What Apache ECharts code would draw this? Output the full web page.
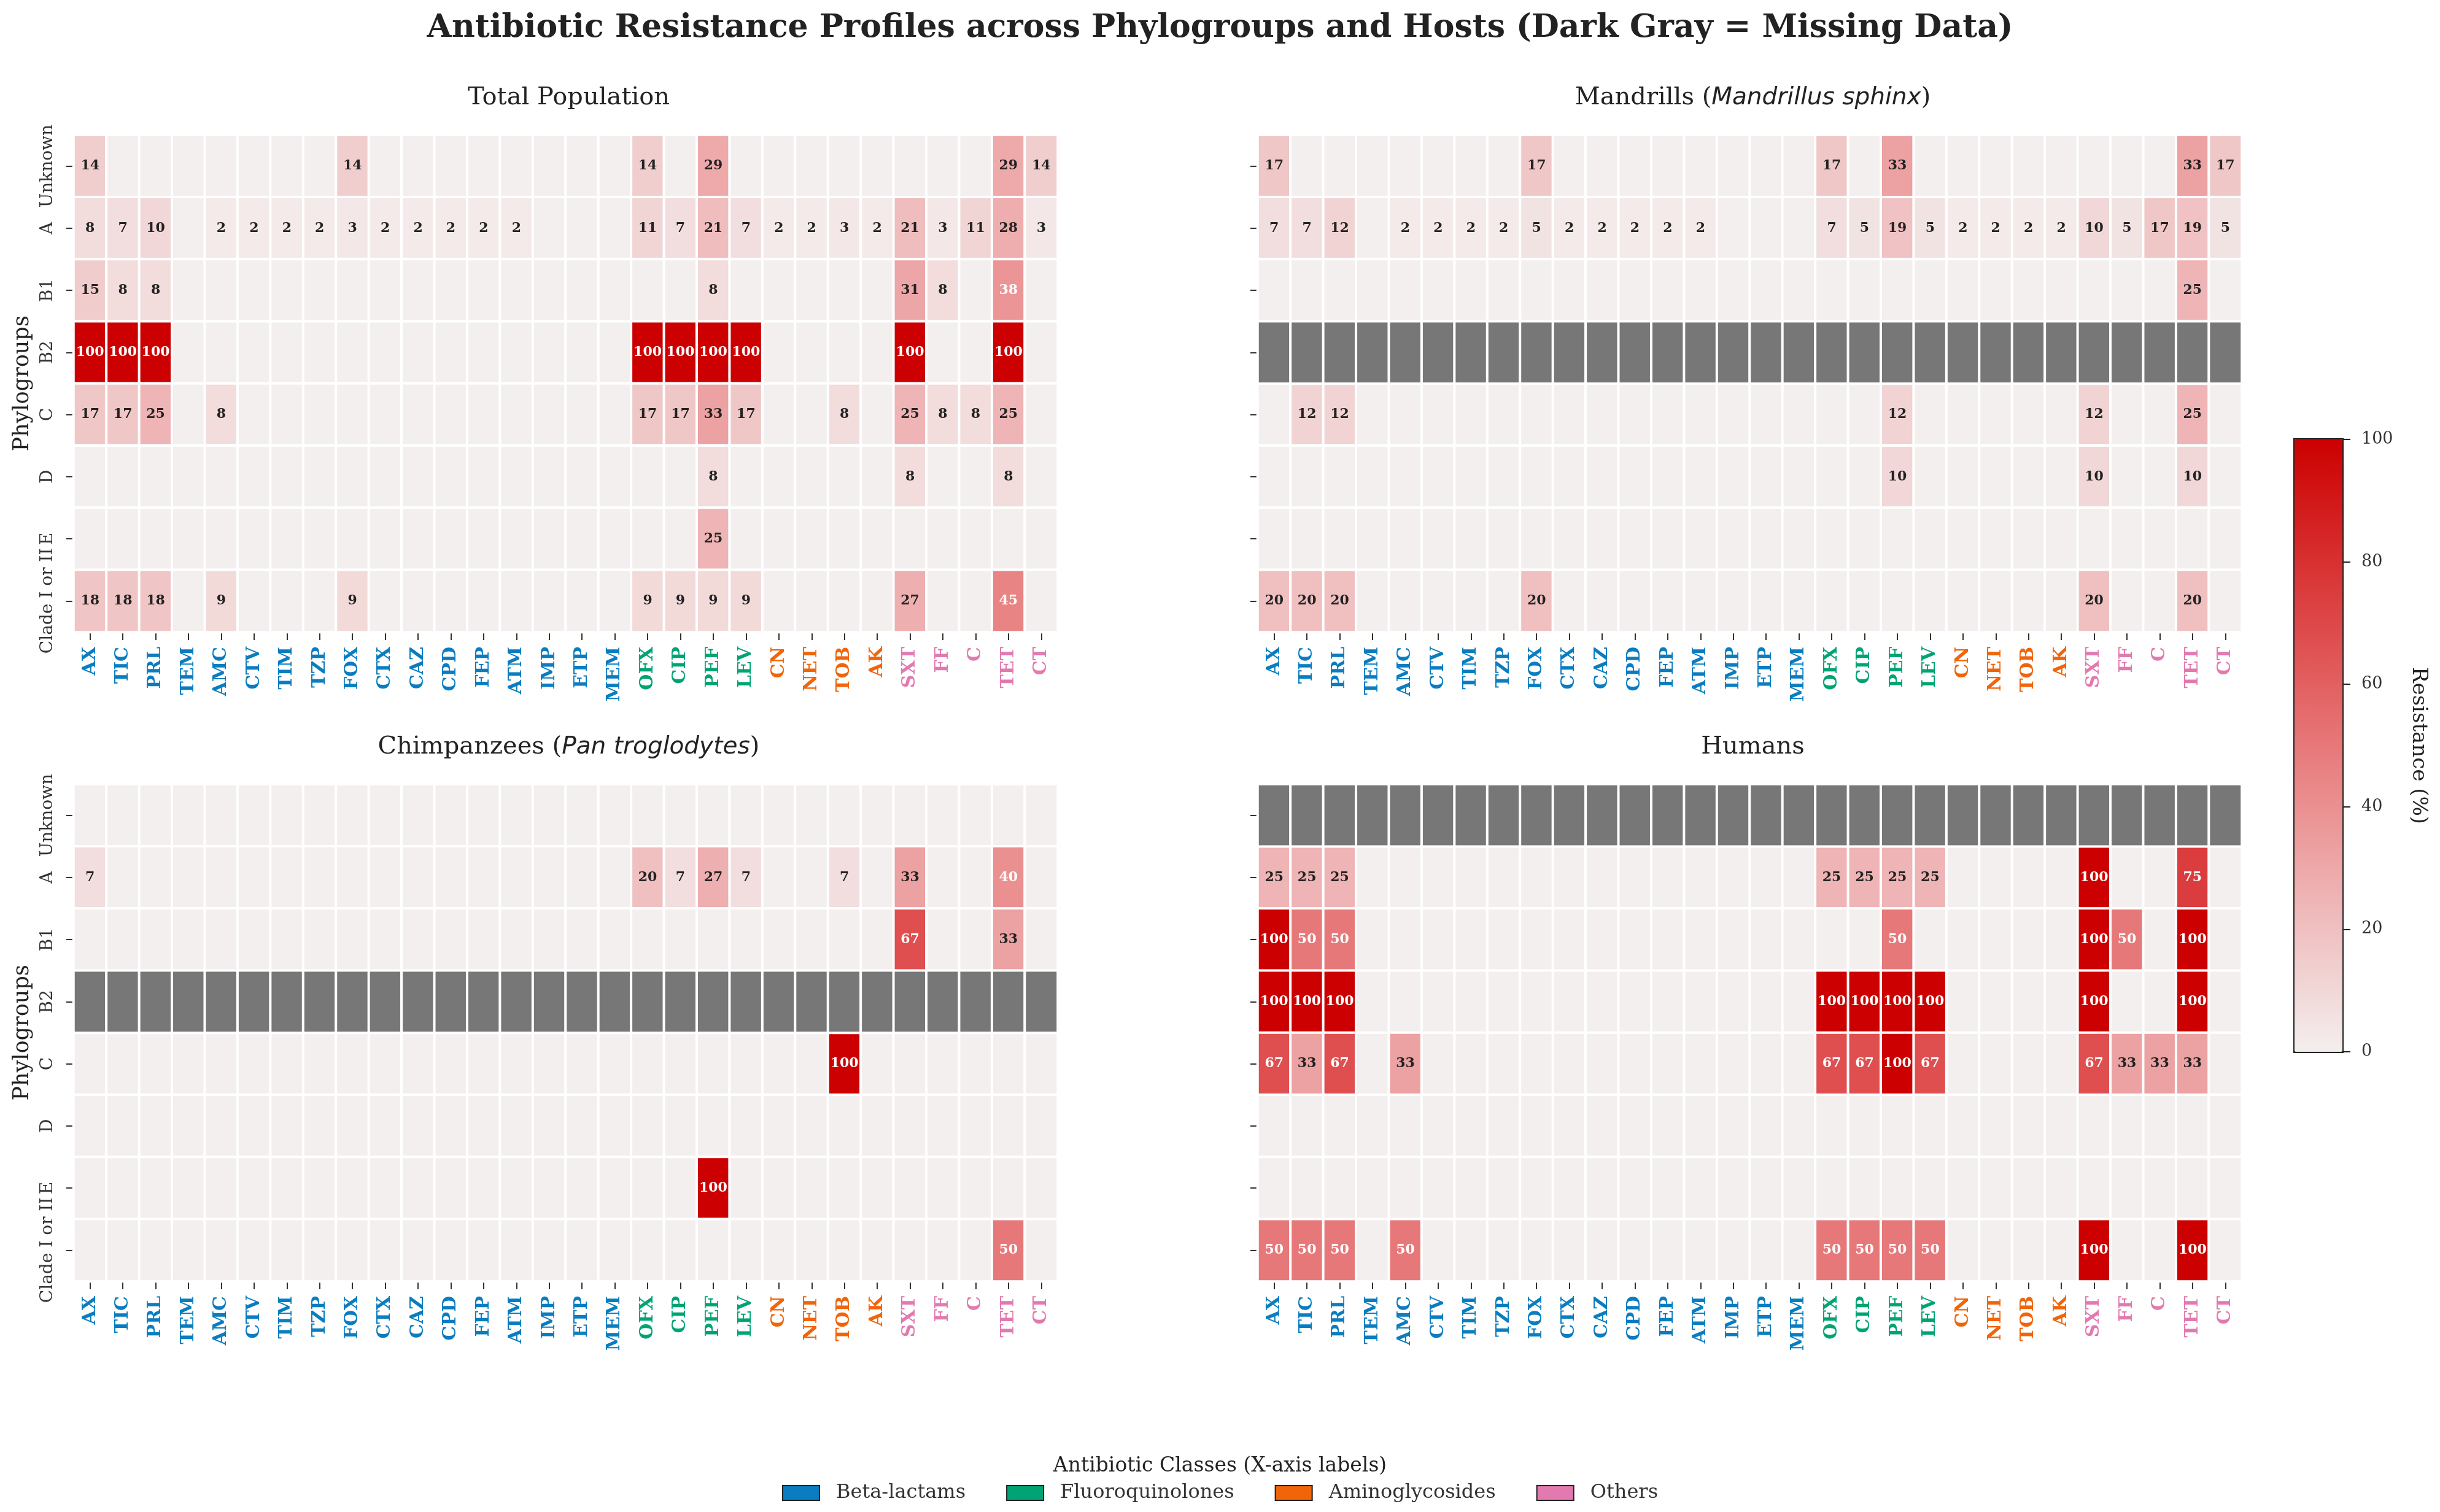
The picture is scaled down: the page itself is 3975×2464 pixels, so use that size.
<!DOCTYPE html>
<html>
<head>
<meta charset="utf-8">
<script src="https://cdn.jsdelivr.net/npm/echarts@6/dist/echarts.min.js"></script>
<style>
  html, body { margin: 0; padding: 0; background: #fff; }
  #main { width: 3975px; height: 2464px; }
</style>
</head>
<body>
<div id="main"></div>
<script>
// antibiotics on the x axis, with their class (0 beta-lactams, 1 FQ, 2 AG, 3 others)
var antibiotics = ['AX','TIC','PRL','TEM','AMC','CTV','TIM','TZP','FOX','CTX','CAZ','CPD','FEP','ATM','IMP','ETP','MEM',
                   'OFX','CIP','PEF','LEV','CN','NET','TOB','AK','SXT','FF','C','TET','CT'];
var abClass = [0,0,0,0,0,0,0,0,0,0,0,0,0,0,0,0,0, 1,1,1,1, 2,2,2,2, 3,3,3,3,3];
var classNames = ['Beta-lactams', 'Fluoroquinolones', 'Aminoglycosides', 'Others'];
var classColors = ['#0a7dc0', '#00a374', '#f0650a', '#e27ab0'];

var phylogroups = ['Unknown', 'A', 'B1', 'B2', 'C', 'D', 'E', 'Clade I or II'];

// resistance (%) per phylogroup row; null = missing data
var totalPop = [
  [14,0,0,0,0,0,0,0,14,0, 0,0,0,0,0,0,0,14,0,29, 0,0,0,0,0,0,0,0,29,14],
  [8,7,10,0,2,2,2,2,3,2, 2,2,2,2,0,0,0,11,7,21, 7,2,2,3,2,21,3,11,28,3],
  [15,8,8,0,0,0,0,0,0,0, 0,0,0,0,0,0,0,0,0,8, 0,0,0,0,0,31,8,0,38,0],
  [100,100,100,0,0,0,0,0,0,0, 0,0,0,0,0,0,0,100,100,100, 100,0,0,0,0,100,0,0,100,0],
  [17,17,25,0,8,0,0,0,0,0, 0,0,0,0,0,0,0,17,17,33, 17,0,0,8,0,25,8,8,25,0],
  [0,0,0,0,0,0,0,0,0,0, 0,0,0,0,0,0,0,0,0,8, 0,0,0,0,0,8,0,0,8,0],
  [0,0,0,0,0,0,0,0,0,0, 0,0,0,0,0,0,0,0,0,25, 0,0,0,0,0,0,0,0,0,0],
  [18,18,18,0,9,0,0,0,9,0, 0,0,0,0,0,0,0,9,9,9, 9,0,0,0,0,27,0,0,45,0]
];
var mandrills = [
  [17,0,0,0,0,0,0,0,17,0, 0,0,0,0,0,0,0,17,0,33, 0,0,0,0,0,0,0,0,33,17],
  [7,7,12,0,2,2,2,2,5,2, 2,2,2,2,0,0,0,7,5,19, 5,2,2,2,2,10,5,17,19,5],
  [0,0,0,0,0,0,0,0,0,0, 0,0,0,0,0,0,0,0,0,0, 0,0,0,0,0,0,0,0,25,0],
  null,
  [0,12,12,0,0,0,0,0,0,0, 0,0,0,0,0,0,0,0,0,12, 0,0,0,0,0,12,0,0,25,0],
  [0,0,0,0,0,0,0,0,0,0, 0,0,0,0,0,0,0,0,0,10, 0,0,0,0,0,10,0,0,10,0],
  [0,0,0,0,0,0,0,0,0,0, 0,0,0,0,0,0,0,0,0,0, 0,0,0,0,0,0,0,0,0,0],
  [20,20,20,0,0,0,0,0,20,0, 0,0,0,0,0,0,0,0,0,0, 0,0,0,0,0,20,0,0,20,0]
];
var chimps = [
  [0,0,0,0,0,0,0,0,0,0, 0,0,0,0,0,0,0,0,0,0, 0,0,0,0,0,0,0,0,0,0],
  [7,0,0,0,0,0,0,0,0,0, 0,0,0,0,0,0,0,20,7,27, 7,0,0,7,0,33,0,0,40,0],
  [0,0,0,0,0,0,0,0,0,0, 0,0,0,0,0,0,0,0,0,0, 0,0,0,0,0,67,0,0,33,0],
  null,
  [0,0,0,0,0,0,0,0,0,0, 0,0,0,0,0,0,0,0,0,0, 0,0,0,100,0,0,0,0,0,0],
  [0,0,0,0,0,0,0,0,0,0, 0,0,0,0,0,0,0,0,0,0, 0,0,0,0,0,0,0,0,0,0],
  [0,0,0,0,0,0,0,0,0,0, 0,0,0,0,0,0,0,0,0,100, 0,0,0,0,0,0,0,0,0,0],
  [0,0,0,0,0,0,0,0,0,0, 0,0,0,0,0,0,0,0,0,0, 0,0,0,0,0,0,0,0,50,0]
];
var humans = [
  null,
  [25,25,25,0,0,0,0,0,0,0, 0,0,0,0,0,0,0,25,25,25, 25,0,0,0,0,100,0,0,75,0],
  [100,50,50,0,0,0,0,0,0,0, 0,0,0,0,0,0,0,0,0,50, 0,0,0,0,0,100,50,0,100,0],
  [100,100,100,0,0,0,0,0,0,0, 0,0,0,0,0,0,0,100,100,100, 100,0,0,0,0,100,0,0,100,0],
  [67,33,67,0,33,0,0,0,0,0, 0,0,0,0,0,0,0,67,67,100, 67,0,0,0,0,67,33,33,33,0],
  [0,0,0,0,0,0,0,0,0,0, 0,0,0,0,0,0,0,0,0,0, 0,0,0,0,0,0,0,0,0,0],
  [0,0,0,0,0,0,0,0,0,0, 0,0,0,0,0,0,0,0,0,0, 0,0,0,0,0,0,0,0,0,0],
  [50,50,50,0,50,0,0,0,0,0, 0,0,0,0,0,0,0,50,50,50, 50,0,0,0,0,100,0,0,100,0]
];

var hosts = [totalPop, mandrills, chimps, humans];
var hostTitles = ['Total Population', 'Mandrills ({it|Mandrillus sphinx})', 'Chimpanzees ({it|Pan troglodytes})', 'Humans'];
var cbTicks = [0, 100, 20];

var FONT = 'DejaVu Serif';
var myChart = echarts.init(document.getElementById('main'));

var panels = [
  { left: 120,  top: 220 },
  { left: 2049, top: 220 },
  { left: 120,  top: 1278 },
  { left: 2049, top: 1278 }
];
var panelW = 1603, panelH = 810;

var grids = [], xAxes = [], yAxes = [], valueSeries = [], missingSeries = [];
var titles = [{
  text: 'Antibiotic Resistance Profiles across Phylogroups and Hosts (Dark Gray = Missing Data)',
  left: 'center', top: 15,
  textStyle: { fontFamily: FONT, fontWeight: 'bold', fontSize: 52, color: '#222' }
}];

hosts.forEach(function (rows, h) {
  var p = panels[h];
  grids.push({ left: p.left, top: p.top, width: panelW, height: panelH });
  titles.push({
    text: hostTitles[h],
    left: p.left + panelW / 2, textAlign: 'center', top: p.top - 85,
    textStyle: {
      fontFamily: FONT, fontWeight: 'normal', fontSize: 40, color: '#222',
      rich: { it: { fontFamily: 'DejaVu Sans', fontStyle: 'italic', fontSize: 39, color: '#222' } }
    }
  });
  xAxes.push({
    type: 'category', gridIndex: h,
    data: antibiotics.map(function (a, i) {
      return { value: a, textStyle: { color: classColors[abClass[i]] } };
    }),
    axisLine: { show: false },
    axisTick: { show: true, alignWithLabel: true, length: 13, lineStyle: { color: '#333', width: 2 } },
    axisLabel: { interval: 0, rotate: 90, margin: 24, fontFamily: FONT, fontWeight: 'bold', fontSize: 30 },
    splitLine: { show: false }
  });
  yAxes.push({
    type: 'category', gridIndex: h, inverse: true, data: phylogroups,
    axisLine: { show: false },
    axisTick: { show: true, alignWithLabel: true, length: 12, lineStyle: { color: '#333', width: 2 } },
    axisLabel: { show: h % 2 === 0, interval: 0, rotate: 90, margin: 28, fontFamily: FONT, fontSize: 28, color: '#333' },
    name: h % 2 === 0 ? 'Phylogroups' : '',
    nameLocation: 'middle', nameRotate: 90, nameGap: 66,
    nameTextStyle: { fontFamily: FONT, fontSize: 35, color: '#222' },
    splitLine: { show: false }
  });

  var data = [], missing = [];
  rows.forEach(function (row, y) {
    if (row === null) {
      antibiotics.forEach(function (a, x) { missing.push([x, y, 1]); });
    } else {
      row.forEach(function (v, x) {
        data.push({ value: [x, y, v], label: { color: v >= 35 ? '#fff' : '#222' } });
      });
    }
  });
  valueSeries.push({
    type: 'heatmap', xAxisIndex: h, yAxisIndex: h, data: data,
    itemStyle: { borderColor: '#fff', borderWidth: 4 },
    label: {
      show: true, fontFamily: FONT, fontWeight: 'bold', fontSize: 22,
      formatter: function (q) { return q.value[2] > 0 ? String(q.value[2]) : ''; }
    },
    emphasis: { disabled: true }
  });
  missingSeries.push({
    type: 'heatmap', xAxisIndex: h, yAxisIndex: h, data: missing,
    itemStyle: { borderColor: '#fff', borderWidth: 4 },
    label: { show: false },
    emphasis: { disabled: true }
  });
});

// colorbar frame + ticks
var cb = { left: 3738, top: 716, width: 78, height: 998 };
grids.push({ left: cb.left, top: cb.top, width: cb.width, height: cb.height, show: true,
             borderColor: '#222', borderWidth: 4, backgroundColor: 'transparent' });
xAxes.push({ type: 'category', gridIndex: 4, show: false, data: ['x'] });
yAxes.push({
  type: 'value', gridIndex: 4, position: 'right', min: cbTicks[0], max: cbTicks[1], interval: cbTicks[2],
  axisLine: { show: false },
  axisTick: { show: true, length: 13, lineStyle: { color: '#222', width: 2 } },
  axisLabel: { margin: 31, fontFamily: FONT, fontSize: 27, color: '#333' },
  splitLine: { show: false },
  name: 'Resistance (%)', nameLocation: 'middle', nameRotate: -90, nameGap: 107,
  nameTextStyle: { fontFamily: FONT, fontSize: 34, color: '#222' }
});

// dummy series for the class legend
var legendSeries = classNames.map(function (n, i) {
  return { type: 'bar', name: n, xAxisIndex: 4, yAxisIndex: 4, data: [], itemStyle: { color: classColors[i] } };
});

titles.push({
  text: 'Antibiotic Classes (X-axis labels)',
  left: 'center', top: 2368,
  textStyle: { fontFamily: FONT, fontWeight: 'normal', fontSize: 33, color: '#222' }
});

var option = {
  backgroundColor: '#fff',
  animation: false,
  title: titles,
  grid: grids,
  xAxis: xAxes,
  yAxis: yAxes,
  legend: {
    data: classNames, left: 'center', top: 2417, orient: 'horizontal', padding: 0,
    itemWidth: 60, itemHeight: 24, itemGap: 66, icon: 'rect', selectedMode: false,
    itemStyle: { borderColor: '#222', borderWidth: 2 },
    textStyle: { fontFamily: FONT, fontSize: 32, color: '#333', padding: [0, 0, 0, 22] }
  },
  visualMap: [{
    type: 'continuous', min: 0, max: 100, seriesIndex: [0, 1, 2, 3],
    calculable: false, orient: 'vertical', left: cb.left, top: cb.top, padding: 0,
    itemWidth: cb.width, itemHeight: cb.height, text: null, hoverLink: false,
    inRange: { color: ['#f3efee', '#efb4b5', '#e77879', '#db3c3d', '#cc0000'] }
  }, {
    type: 'continuous', show: false, min: 0, max: 1, seriesIndex: [4, 5, 6, 7],
    inRange: { color: ['#777777', '#777777'] }
  }],
  series: valueSeries.concat(missingSeries).concat(legendSeries)
};

myChart.setOption(option);
</script>
</body>
</html>
